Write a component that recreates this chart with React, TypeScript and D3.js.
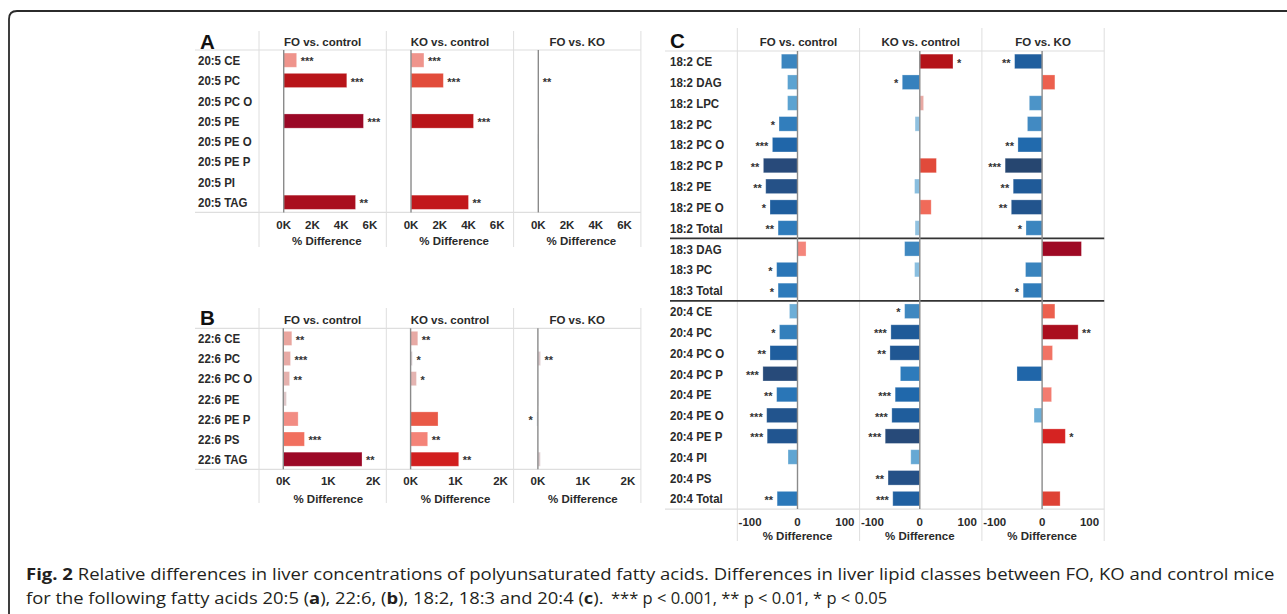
import { useRef, useState, useLayoutEffect } from 'react';
import * as d3 from 'd3';

const COLUMNS = ['FO vs. control', 'KO vs. control', 'FO vs. KO'];

// Panel A: 20:5
const A_ROWS = ['20:5 CE', '20:5 PC', '20:5 PC O', '20:5 PE', '20:5 PE O', '20:5 PE P', '20:5 PI', '20:5 TAG'];
const A_FO = [900, 4390, 0, 5550, 0, 0, 0, 5000];
const A_KO = [900, 2250, 0, 4350, 0, 0, 0, 4000];
const A_FK = [0, 25, 0, 5, -40, 0, 0, 5];
const A_FO_SIG = ['***', '***', '', '***', '', '', '', '**'];
const A_KO_SIG = ['***', '***', '', '***', '', '', '', '**'];
const A_FK_SIG = ['', '**', '', '', '', '', '', ''];
const A_TICKS = [0, 2000, 4000, 6000];

// Panel B: 22:6
const B_ROWS = ['22:6 CE', '22:6 PC', '22:6 PC O', '22:6 PE', '22:6 PE P', '22:6 PS', '22:6 TAG'];
const B_FO = [190, 160, 140, 70, 330, 470, 1750];
const B_KO = [160, 40, 130, 10, 610, 380, 1070];
const B_FK = [0, 60, 0, 10, -25, 0, 55];
const B_FO_SIG = ['**', '***', '**', '', '', '***', '**'];
const B_KO_SIG = ['**', '*', '*', '', '', '**', '**'];
const B_FK_SIG = ['', '**', '', '', '*', '', ''];
const B_TICKS = [0, 1000, 2000];

// Panel C: 18:2, 18:3, 20:4
const C_ROWS = [
  '18:2 CE', '18:2 DAG', '18:2 LPC', '18:2 PC', '18:2 PC O', '18:2 PC P', '18:2 PE', '18:2 PE O', '18:2 Total',
  '18:3 DAG', '18:3 PC', '18:3 Total',
  '20:4 CE', '20:4 PC', '20:4 PC O', '20:4 PC P', '20:4 PE', '20:4 PE O', '20:4 PE P', '20:4 PI', '20:4 PS', '20:4 Total',
];
const C_FO = [-34, -21, -21, -39, -53, -72, -67, -58, -41, 18, -44, -41, -17, -38, -58, -73, -44, -65, -64, -20, 0, -43];
const C_KO = [70, -37, 8, -10, -1, 35, -11, 24, -10, -32, -11, 0, -32, -61, -63, -41, -52, -59, -73, -19, -67, -57];
const C_FK = [-58, 27, -27, -31, -51, -78, -61, -65, -34, 83, -35, -40, 27, 76, 22, -53, 20, -17, 49, 1, 0, 38];
const C_FO_SIG = ['', '', '', '*', '***', '**', '**', '*', '**', '', '*', '*', '', '*', '**', '***', '**', '***', '***', '', '', '**'];
const C_KO_SIG = ['*', '*', '', '', '', '', '', '', '', '', '', '', '*', '***', '**', '', '***', '***', '***', '', '**', '***'];
const C_FK_SIG = ['**', '', '', '', '**', '***', '**', '**', '*', '', '', '*', '', '**', '', '', '', '', '*', '', '', ''];
const C_TICKS = [-100, 0, 100];
const C_BREAKS = [9, 12];

// caption: odd-index parts are bold
const CAPTION_1 = ['', 'Fig. 2', ' Relative differences in liver concentrations of polyunsaturated fatty acids. Differences in liver lipid classes between FO, KO and control mice'];
const CAPTION_2A = ['for the following fatty acids 20:5 (', 'a', '), 22:6, (', 'b', '), 18:2, 18:3 and 20:4 (', 'c', ').'];
const CAPTION_2B = '*** p < 0.001, ** p < 0.01, * p < 0.05';

// diverging colours, in "panel C units" (% difference)
const COLOR_STOPS = [-80, -70, -62, -52, -42, -32, -22, -12, 0, 8, 18, 25, 35, 50, 70, 85];
const COLOR_RANGE = ['#26446c', '#284c7e', '#1f5896', '#2068ab', '#2c7aba', '#3f88c0', '#58a0cf', '#82bbdf', '#d6dde4',
  '#e8a9a3', '#f4857b', '#ef6653', '#e14a3a', '#d42020', '#b41218', '#9b0826'];
const colorScale = d3.scaleLinear<string>().domain(COLOR_STOPS).range(COLOR_RANGE).clamp(true);

const FONT = '"Liberation Sans", Arial, sans-serif';
const TEXT = '#2a2a2a';
const GRID = '#dedede';

interface PanelProps {
  label: string;
  labelX: number;
  labelY: number;
  rowLabelX: number;
  lineX0: number;
  colX0: number;
  colW: number;
  top: number;
  rowH: number;
  headY: number;
  sepTop: number;
  sepBottom: number;
  tickY: number;
  axisTitleY: number;
  rows: string[];
  series: number[][];
  sigs: string[][];
  domain: [number, number];
  ticks: number[];
  tickFmt: (d: number) => string;
  colorFactor: number;
  breaks?: number[];
}

function Panel(p: PanelProps) {
  const x = d3.scaleLinear().domain(p.domain).range([0, p.colW]);
  const bottom = p.top + p.rows.length * p.rowH;
  const barH = p.rowH * 0.7;
  const colRight = p.colX0 + 3 * p.colW;
  return (
    <g>
      <text x={p.labelX} y={p.labelY} fontSize={20.5} fontWeight="bold" fill="#111">{p.label}</text>
      {[0, 1, 2, 3].map(i => (
        <line key={i} x1={p.colX0 + i * p.colW} x2={p.colX0 + i * p.colW} y1={p.sepTop} y2={p.sepBottom}
          stroke={GRID} strokeWidth={1} />
      ))}
      <line x1={p.lineX0} x2={colRight} y1={p.top} y2={p.top} stroke={GRID} strokeWidth={1.2} />
      <line x1={p.lineX0} x2={colRight} y1={bottom} y2={bottom} stroke={GRID} strokeWidth={1.2} />
      {(p.breaks || []).map(b => (
        <line key={b} x1={p.lineX0 + 5} x2={colRight} y1={p.top + b * p.rowH} y2={p.top + b * p.rowH}
          stroke="#333" strokeWidth={1.6} />
      ))}
      {/* row labels: slightly condensed, as in the original */}
      {p.rows.map((r, i) => (
        <g key={r} transform={`translate(${p.rowLabelX},${p.top + (i + 0.5) * p.rowH + 4.8}) scale(0.87,1)`}>
          <text fontSize={13.2} fontWeight="bold" fill={TEXT}>{r}</text>
        </g>
      ))}
      {COLUMNS.map((title, c) => {
        const cx = p.colX0 + c * p.colW;
        return (
          <g key={title} transform={`translate(${cx},0)`}>
            <text x={p.colW / 2} y={p.headY} textAnchor="middle" fontSize={11.5} fontWeight="bold" fill={TEXT}>{title}</text>
            {p.series[c].map((v, i) => {
              if (v === 0) return null;
              const y0 = p.top + i * p.rowH + (p.rowH - barH) / 2;
              return (
                <rect key={i} x={x(Math.min(0, v))} y={y0} width={Math.abs(x(v) - x(0))} height={barH}
                  fill={colorScale(v * p.colorFactor)} stroke="#fff" strokeOpacity={0.35} strokeWidth={0.8} />
              );
            })}
            <line x1={x(0)} x2={x(0)} y1={p.top} y2={bottom} stroke="#8a8a8a" strokeWidth={1.4} />
            {p.sigs[c].map((s, i) => {
              if (!s) return null;
              const v = p.series[c][i];
              const neg = v < 0;
              return (
                <text key={i} x={neg ? x(v) - 4 : x(v) + 4} y={p.top + (i + 0.5) * p.rowH + 5.2}
                  textAnchor={neg ? 'end' : 'start'} fontSize={11} fontWeight="bold" fill="#333">{s}</text>
              );
            })}
            {p.ticks.map(t => (
              <text key={t} x={x(t)} y={p.tickY} textAnchor="middle" fontSize={11.5} fontWeight="bold" fill={TEXT}>{p.tickFmt(t)}</text>
            ))}
            <text x={x(p.ticks[0]) + (x(p.ticks[p.ticks.length - 1]) - x(p.ticks[0])) / 2} y={p.axisTitleY}
              textAnchor="middle" fontSize={11.5} fontWeight="bold" fill={TEXT}>% Difference</text>
          </g>
        );
      })}
    </g>
  );
}

// caption uses a condensed face in the original; squeeze each run to the width it takes there
function Squeezed({ parts, x, y, width }: { parts: string[]; x: number; y: number; width: number }) {
  const ref = useRef<SVGTextElement>(null);
  const [sx, setSx] = useState(1);
  useLayoutEffect(() => {
    if (!ref.current) return;
    const w = ref.current.getBBox().width;
    if (w > 0) setSx(width / w);
  }, [width]);
  return (
    <g transform={`translate(${x},${y}) scale(${sx},1)`}>
      <text ref={ref} x={0} y={0}>
        {parts.map((s, i) => (
          <tspan key={i} fontWeight={i % 2 === 1 ? 'bold' : 'normal'}>{s}</tspan>
        ))}
      </text>
    </g>
  );
}

const kFmt = (d: number) => `${d / 1000}K`;

export default function App() {
  return (
    <div style={{ position: 'absolute', left: 0, top: 0, width: 1287, height: 614, background: '#fff' }}>
      <svg width={1287} height={614} fontFamily={FONT} style={{ display: 'block' }}>
        <path d="M9,614 L9,19 Q9,11 17,11 L1287,11" fill="none" stroke="#2b2b2b" strokeWidth={1.8} />

        <Panel label="A" labelX={200} labelY={49} rowLabelX={198} lineX0={195} colX0={259} colW={127.3}
          top={50} rowH={20.3} headY={46} sepTop={31} sepBottom={247} tickY={228.5} axisTitleY={245}
          rows={A_ROWS} series={[A_FO, A_KO, A_FK]} sigs={[A_FO_SIG, A_KO_SIG, A_FK_SIG]}
          domain={[-1720, 7140]} ticks={A_TICKS} tickFmt={kFmt} colorFactor={85 / 5550} />

        <Panel label="B" labelX={200} labelY={325} rowLabelX={198} lineX0={195} colX0={259} colW={127.3}
          top={328.3} rowH={20.14} headY={323.5} sepTop={308} sepBottom={503} tickY={485} axisTitleY={502.5}
          rows={B_ROWS} series={[B_FO, B_KO, B_FK]} sigs={[B_FO_SIG, B_KO_SIG, B_FK_SIG]}
          domain={[-540, 2290]} ticks={B_TICKS} tickFmt={kFmt} colorFactor={85 / 1750} />

        <Panel label="C" labelX={670} labelY={48} rowLabelX={670} lineX0={665} colX0={737.3} colW={122.3}
          top={51} rowH={20.82} headY={46} sepTop={28} sepBottom={541} tickY={526} axisTitleY={540}
          rows={C_ROWS} series={[C_FO, C_KO, C_FK]} sigs={[C_FO_SIG, C_KO_SIG, C_FK_SIG]}
          domain={[-127, 131]} ticks={C_TICKS} tickFmt={d => String(d)} colorFactor={1} breaks={C_BREAKS} />

        <g fontFamily='"Open Sans", sans-serif' fontSize={15.5} fill="#231f20">
          <Squeezed parts={CAPTION_1} x={26} y={580} width={1249} />
          <Squeezed parts={CAPTION_2A} x={26} y={604} width={578} />
          <text x={611} y={604} fontSize={16.5}>{CAPTION_2B}</text>
        </g>
      </svg>
    </div>
  );
}
